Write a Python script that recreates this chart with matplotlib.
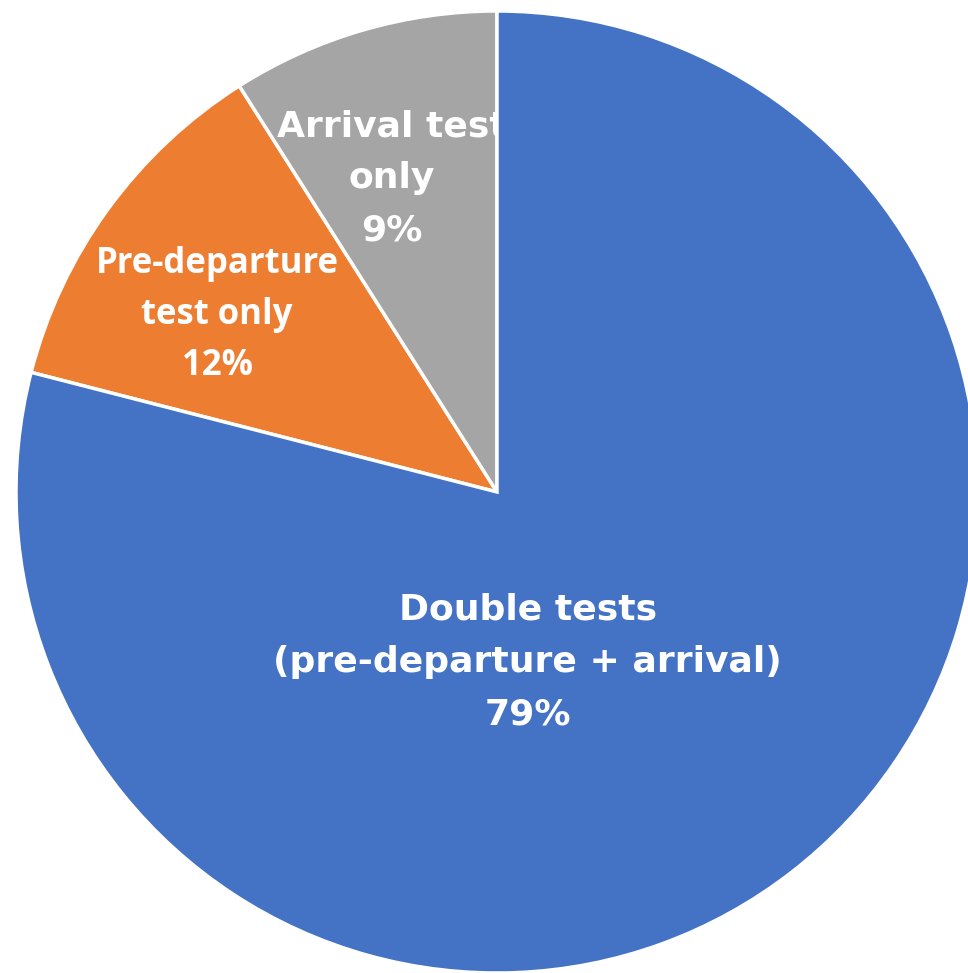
import matplotlib
matplotlib.use("Agg")
import matplotlib.pyplot as plt

categories = ["Double tests\n(pre-departure + arrival)", "Pre-departure\ntest only", "Arrival test\nonly"]
values = [79, 12, 9]
colors = ["#4472C4", "#ED7D31", "#A5A5A5"]

W, H = 968, 973
fig = plt.figure(figsize=(W / 100, H / 100), dpi=100)
cx, cy, r = 497, 492, 481
ax = fig.add_axes([(cx - r) / W, (H - cy - r) / H, 2 * r / W, 2 * r / H])
wedges, _ = ax.pie(values, colors=colors, startangle=90, counterclock=False,
                   radius=1, wedgeprops=dict(edgecolor="white", linewidth=2.5))
ax.set_xlim(-1, 1)
ax.set_ylim(-1, 1)
ax.set_aspect("auto")
ax.axis("off")
# blue wedge drawn above the gray label so that label is cut at the slice edge
wedges[0].set_zorder(3.5)

label_pos = [(0.064, -0.354), (-0.582, 0.368), (-0.218, 0.652)]
families = [["DejaVu Sans"], ["Open Sans", "DejaVu Sans"], ["DejaVu Sans"]]
sizes = [26, 25, 26]
spacings = [1.68, 1.55, 1.68]
zorders = [4, 4, 3]
for w, cat, v, pos, fam, fs, ls, z in zip(wedges, categories, values, label_pos, families, sizes, spacings, zorders):
    ax.text(pos[0], pos[1], f"{cat}\n{v}%", ha="center", va="center",
            color="white", fontweight="bold", family=fam, fontsize=fs,
            linespacing=ls, zorder=z)

fig.savefig("out.png", dpi=100)
